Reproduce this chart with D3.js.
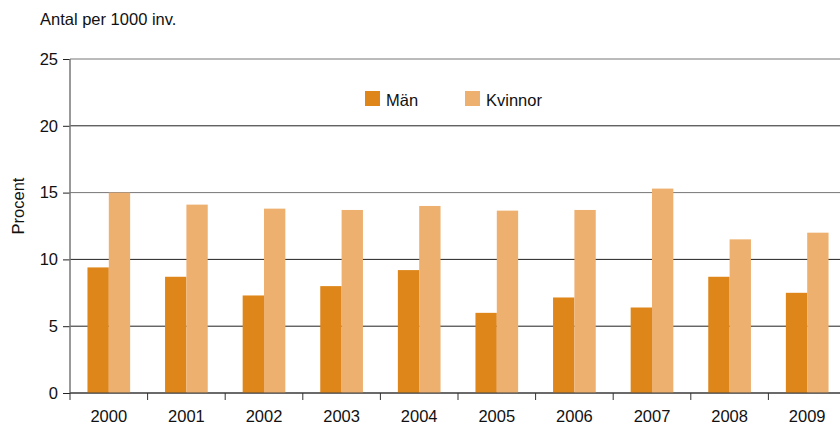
<!DOCTYPE html>
<html>
<head>
<meta charset="utf-8">
<script src="https://cdn.jsdelivr.net/npm/d3@7"></script>
<style>
    body { margin: 0; background: #fff; }
    svg { font-family: "Liberation Sans", Arial, sans-serif; }
    .grid-line { stroke-width: 1; }
    .axis-line { stroke: #777; stroke-width: 1.5; }
</style>
</head>
<body>
<div id="graphHolder"></div>
<script>
'use strict'
var years = ["2000", "2001", "2002", "2003", "2004", "2005", "2006", "2007", "2008", "2009"];
var seriesNames = ["Män", "Kvinnor"];
var man = [9.4, 8.7, 7.3, 8.0, 9.2, 6.0, 7.15, 6.4, 8.7, 7.5];
var kvinnor = [15.0, 14.1, 13.8, 13.7, 14.0, 13.65, 13.7, 15.3, 11.5, 12.0];
var yTicks = [0, 5, 10, 15, 20, 25];
var colors = ["#de8619", "#edb06f"];

var _width = 840, _height = 424;
var _margins = {top: 59, left: 70, right: -6, bottom: 31};
var fontSize = "16.5px";

var _svg = d3.select("div#graphHolder").append("svg")
        .attr("width", _width)
        .attr("height", _height);

var _xScale = d3.scaleBand()
        .domain(years)
        .range([_margins.left, _width - _margins.right])
        .paddingInner(0.45)
        .paddingOuter(0.225);

var _x1 = d3.scaleBand()
        .domain(seriesNames)
        .range([0, _xScale.bandwidth()]);

var _yScale = d3.scaleLinear()
        .domain([0, 25])
        .range([_height - _margins.bottom, _margins.top]);

// grid lines + y ticks
var yAxis = d3.axisLeft(_yScale).tickValues(yTicks).tickSize(7).tickPadding(5);
var yG = _svg.append("g")
        .attr("transform", "translate(" + _margins.left + ",0)")
        .call(yAxis);
yG.select(".domain").remove();
yG.selectAll(".tick line").attr("stroke", "#222");
yG.selectAll(".tick text")
        .attr("fill", "#111")
        .style("font-size", fontSize)
        .style("font-family", "Liberation Sans, Arial, sans-serif");

_svg.append("g").selectAll("line.grid-line")
        .data(yTicks)
        .enter()
        .append("line")
        .attr("class", "grid-line")
        .attr("x1", _margins.left)
        .attr("x2", _width)
        .attr("y1", function (d) { return _yScale(d); })
        .attr("y2", function (d) { return _yScale(d); })
        .attr("stroke", function (d) { return (d === 25 || d === 15) ? "#777" : "#222"; });

// bars
var data = years.map(function (y, i) {
    return {year: y, values: [man[i], kvinnor[i]]};
});

var groups = _svg.append("g").selectAll("g.group")
        .data(data)
        .enter()
        .append("g")
        .attr("transform", function (d) { return "translate(" + _xScale(d.year) + ",0)"; });

groups.selectAll("rect")
        .data(function (d) { return d.values; })
        .enter()
        .append("rect")
        .attr("x", function (d, i) { return _x1(seriesNames[i]); })
        .attr("width", _x1.bandwidth())
        .attr("y", function (d) { return _yScale(d); })
        .attr("height", function (d) { return _yScale(0) - _yScale(d); })
        .attr("fill", function (d, i) { return colors[i]; });

// y axis line
_svg.append("line")
        .attr("class", "axis-line")
        .attr("x1", _margins.left).attr("x2", _margins.left)
        .attr("y1", _yScale(25)).attr("y2", _yScale(0));

// x axis with ticks between categories
var step = _xScale.step();
var xAxisG = _svg.append("g");
xAxisG.append("line")
        .attr("x1", _margins.left).attr("x2", _width)
        .attr("y1", _yScale(0)).attr("y2", _yScale(0))
        .attr("stroke", "#444").attr("stroke-width", 1.2);
xAxisG.selectAll("line.xtick")
        .data(d3.range(years.length + 1))
        .enter()
        .append("line")
        .attr("class", "xtick")
        .attr("x1", function (i) { return _margins.left + i * step; })
        .attr("x2", function (i) { return _margins.left + i * step; })
        .attr("y1", _yScale(0))
        .attr("y2", _yScale(0) + 7)
        .attr("stroke", "#333");
xAxisG.selectAll("text")
        .data(years)
        .enter()
        .append("text")
        .attr("x", function (d) { return _xScale(d) + _xScale.bandwidth() / 2; })
        .attr("y", 422)
        .attr("text-anchor", "middle")
        .attr("fill", "#111")
        .style("font-size", fontSize)
        .text(function (d) { return d; });

// titles
_svg.append("text")
        .attr("x", 40).attr("y", 25)
        .attr("fill", "#111")
        .style("font-size", fontSize)
        .text("Antal per 1000 inv.");

_svg.append("text")
        .attr("transform", "translate(24,206) rotate(-90)")
        .attr("text-anchor", "middle")
        .attr("fill", "#111")
        .style("font-size", fontSize)
        .text("Procent");

// legend
var legend = _svg.append("g").selectAll("g.legend")
        .data(seriesNames)
        .enter()
        .append("g")
        .attr("transform", function (d, i) { return "translate(" + (365 + i * 100) + ",91)"; });
legend.append("rect")
        .attr("width", 15).attr("height", 15)
        .attr("fill", function (d, i) { return colors[i]; });
legend.append("text")
        .attr("x", 21).attr("y", 15)
        .attr("fill", "#111")
        .style("font-size", fontSize)
        .text(function (d) { return d; });
</script>
</body>
</html>
